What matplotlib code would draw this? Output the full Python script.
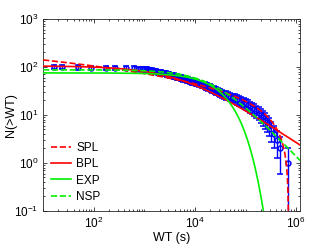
import numpy as np
import matplotlib
matplotlib.use("Agg")
import matplotlib.pyplot as plt
from matplotlib.ticker import LogLocator, NullFormatter

plt.rcParams['font.family'] = ['Liberation Sans', 'DejaVu Sans']
plt.rcParams['mathtext.fontset'] = 'custom'
plt.rcParams['mathtext.rm'] = 'Liberation Sans'
plt.rcParams['mathtext.it'] = 'Liberation Sans:italic'

# observed waiting times (log10 of seconds), sorted; N(>WT) is the rank
log_wt = [1.21, 1.37, 1.68, 1.94, 2.24, 2.42, 2.63, 2.80, 2.88, 2.95,
          3.00, 3.03, 3.05, 3.08, 3.10, 3.12, 3.15, 3.17, 3.19, 3.22,
          3.24, 3.26, 3.29, 3.31, 3.33, 3.35, 3.38, 3.40, 3.42, 3.44,
          3.46, 3.48, 3.50, 3.53, 3.55, 3.58, 3.60, 3.63, 3.65, 3.67,
          3.70, 3.72, 3.75, 3.77, 3.80, 3.82, 3.85, 3.87, 3.90, 3.92,
          3.95, 3.97, 4.00, 4.03, 4.05, 4.08, 4.11, 4.13, 4.16, 4.19,
          4.21, 4.24, 4.26, 4.29, 4.32, 4.34, 4.37, 4.40, 4.42, 4.45,
          4.47, 4.50, 4.54, 4.58, 4.62, 4.66, 4.70, 4.75, 4.79, 4.83,
          4.87, 4.92, 4.96, 5.00, 5.04, 5.08, 5.13, 5.17, 5.21, 5.26,
          5.30, 5.34, 5.38, 5.42, 5.46, 5.50, 5.56, 5.62, 5.68, 5.83]

# fitted model parameters
spl_A, spl_beta, spl_logxmax = 367.0, 0.05, 5.85
bpl_A, bpl_xb, bpl_s = 105.0, 5450.0, 0.7
exp_A, exp_x0 = 75.0, 3.4e4
nsp_A, nsp_x0, nsp_s = 87.0, 2.35e4, 1.1

wt = 10 ** np.array(log_wt)
n = np.arange(len(wt), 0, -1)
err = np.sqrt(n)

x = np.logspace(1, 6.1, 600)
spl = spl_A * (x ** -spl_beta - (10 ** spl_logxmax) ** -spl_beta)
spl = np.where(spl > 0, spl, 1e-3)
bpl = bpl_A / (1 + (x / bpl_xb) ** bpl_s)
expo = exp_A * np.exp(-x / exp_x0)
nsp = nsp_A / (1 + x / nsp_x0) ** nsp_s

fig = plt.figure(figsize=(3.32, 2.49), dpi=100)
ax = fig.add_axes([0.13, 0.153, 0.774, 0.771])

ax.errorbar(wt, n, yerr=[np.minimum(err, n - 1e-3), err], fmt='o', color='b',
            ms=3.5, mfc='none', mew=1.1, elinewidth=1, capsize=2, zorder=2)
ax.plot(x, spl, 'r--', lw=1.2, label='SPL', zorder=3)
ax.plot(x, bpl, 'r-', lw=1.2, label='BPL', zorder=3)
ax.plot(x, expo, '-', color='#00f000', lw=1.2, label='EXP', zorder=3)
ax.plot(x, nsp, '--', color='#00f000', lw=1.2, label='NSP', zorder=3)

ax.set_xscale('log')
ax.set_yscale('log')
ax.set_xlim(10, 1.2e6)
ax.set_ylim(0.1, 1000)
ax.set_xticks([1e2, 1e4, 1e6])
ax.xaxis.set_minor_locator(LogLocator(base=10, subs=np.arange(1, 10), numticks=20))
ax.xaxis.set_minor_formatter(NullFormatter())
ax.yaxis.set_major_locator(LogLocator(base=10, numticks=10))
ax.yaxis.set_minor_locator(LogLocator(base=10, subs=np.arange(2, 10), numticks=20))
ax.yaxis.set_minor_formatter(NullFormatter())
ax.tick_params(which='both', direction='in', top=True, right=True, labelsize=8.5,
               color='#262626', width=0.6)
ax.tick_params(which='major', length=3)
ax.tick_params(which='minor', length=1.5)
for sp in ax.spines.values():
    sp.set_linewidth(0.6)
    sp.set_color('#262626')

ax.set_xlabel('WT (s)', fontsize=9, labelpad=1)
ax.set_ylabel('N(>WT)', fontsize=9)
ax.yaxis.set_label_coords(-0.1, 0.5)

ax.legend(loc='lower left', frameon=False, fontsize=8.5, handlelength=1.7,
          handletextpad=0.4, labelspacing=0.35, borderaxespad=0.3)

fig.savefig('out.png', dpi=100)
